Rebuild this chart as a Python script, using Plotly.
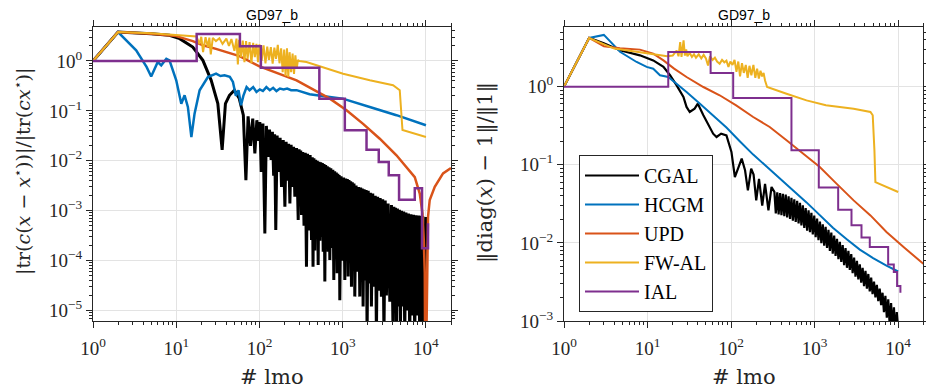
import plotly.graph_objects as go

# ---------------- left panel: |tr(c(x - x*))| / |tr(c x*)| ----------------
cgal_tr_x = [1, 2, 5, 8.3, 11, 15.8, 20.9, 26.3, 31.6, 35.6, 39, 43.6, 50, 57,
             64, 68.7, 73, 78, 83, 88, 93, 98, 101, 105, 110, 116, 121, 127, 132, 138,
             143, 148, 152, 157, 163, 170, 177, 184, 193, 202, 209, 216, 224, 232, 240, 249,
             257, 266, 279, 292, 299, 306, 313, 320, 331, 343, 355, 367, 378, 390, 406, 422,
             431, 440, 451, 462, 473, 484, 495, 507, 519, 532, 544, 556, 569, 583, 596, 610,
             624, 638, 653, 668, 684, 700, 720, 740, 761, 782, 801, 820, 838, 857, 873, 890,
             906, 923, 956, 990, 1025, 1060, 1085, 1110, 1136, 1162, 1190, 1220, 1247, 1274,
             1304, 1335, 1366, 1397, 1448, 1500, 1551, 1604, 1642, 1680, 1718, 1758, 1808,
             1860, 1911, 1963, 2025, 2090, 2150, 2213, 2295, 2380, 2460, 2541, 2630, 2720,
             2818, 2917, 3022, 3130, 3240, 3350, 3510, 3680, 3850, 4027, 4120, 4220, 4317,
             4416, 4540, 4670, 4800, 4932, 5080, 5240, 5400, 5560, 5750, 5950, 6160, 6385,
             6610, 6850, 7090, 7330, 7590, 7850, 8130, 8414, 8650, 8900, 9150, 9400, 10000]
cgal_tr_y = [1, 3.8, 3.5, 3.27, 2.8, 1.9, 1.03, 0.41, 0.14, 0.0165, 0.14, 0.205, 0.26, 0.18,
             0.082, 0.0041, 0.078, 0.02, 0.07, 0.014, 0.065, 0.025, 0.06, 0.006, 0.056, 3.5e-4,
             0.05, 0.012, 0.042, 0.0104, 0.038, 0.005, 0.034, 4.1e-4, 0.032, 0.006, 0.029,
             0.003, 0.026, 0.0012, 0.024, 0.004, 0.022, 0.0014, 0.021, 0.003, 0.019, 0.0019,
             0.018, 6.5e-4, 0.017, 0.0015, 0.016, 8.2e-4, 0.015, 5e-4, 0.0145, 7.5e-5, 0.0138,
             4e-4, 0.013, 2.6e-4, 0.0118, 7.5e-5, 0.0112, 1.6e-4, 0.0105, 3e-4, 0.01, 8.2e-5,
             0.0096, 2.5e-4, 0.0093, 3e-4, 0.009, 1.5e-4, 0.0086, 3.8e-5, 0.0082, 3.3e-4,
             0.0078, 1.5e-4, 0.0074, 1.03e-4, 0.0071, 1.8e-4, 0.0066, 4.1e-5, 0.0062, 1.5e-4,
             0.0058, 5.6e-5, 0.0055, 1.2e-4, 0.0052, 1.6e-5, 0.0049, 1e-4, 0.0046, 4.1e-5,
             0.0044, 1e-4, 0.0043, 4.8e-5, 0.0041, 9e-5, 0.0039, 3e-5, 0.0037, 7e-5, 0.0035,
             1.9e-5, 0.0032, 6e-5, 0.003, 1.9e-5, 0.0029, 5e-5, 0.0028, 1.2e-5, 0.0027, 4e-5,
             0.0026, 3e-6, 0.0025, 3.5e-5, 0.0023, 1.2e-5, 0.0022, 3e-5, 0.002, 3e-6, 0.0019,
             2.5e-5, 0.0018, 1.9e-5, 0.0017, 3e-6, 0.0016, 2e-5, 0.0014, 1.5e-5, 0.0013, 3e-6,
             0.0012, 1.5e-5, 0.00115, 3e-6, 0.0011, 1.2e-5, 0.00105, 3e-6, 0.001, 1.2e-5,
             0.00096, 3e-6, 0.00092, 1e-5, 0.00088, 3e-6, 0.00085, 8e-6, 0.00083, 3e-6,
             0.00081, 8e-6, 0.0008, 3e-6, 0.00079, 6e-6, 0.00078, 3e-6, 0.00075]

hcgm_tr_x = [1, 2, 3.3, 4.4, 5.0, 6.0, 6.6, 7.6, 8.3, 10, 11.5, 12.6, 13.8, 15.2, 16.6, 19.1,
             24, 30.1, 34, 38, 44, 48, 52, 56, 60, 64, 70, 76, 84, 92, 101, 110, 121, 133,
             146, 160, 176, 195, 215, 240, 279, 320, 400, 700, 1000, 2115, 4424, 10000]
hcgm_tr_y = [1, 3.8, 1.64, 0.76, 0.49, 0.955, 0.82, 1.11, 1.03, 0.41, 0.139, 0.205, 0.12, 0.030,
             0.088, 0.259, 0.478, 0.556, 0.5, 0.517, 0.48, 0.38, 0.2, 0.26, 0.13, 0.2, 0.30,
             0.26, 0.30, 0.24, 0.27, 0.25, 0.30, 0.26, 0.29, 0.25, 0.28, 0.27, 0.28, 0.26,
             0.26, 0.24, 0.215, 0.19, 0.176, 0.12, 0.082, 0.0515]

upd_tr_x = [1, 2, 5, 10, 15.8, 21, 30, 44, 57.5, 100, 279, 700, 1111, 1758, 2788, 4424, 5834,
            7340, 8426, 9081, 9415, 9680, 9850, 10150, 10400, 10600, 11100, 12760, 16050, 20000]
upd_tr_y = [1, 3.8, 3.5, 3.15, 2.5, 2.06, 1.75, 1.45, 1.25, 0.78, 0.41, 0.176, 0.103, 0.055,
            0.0277, 0.0129, 0.0075, 0.0047, 0.0022, 8.9e-4, 2.6e-4, 5.6e-5, 1e-7, 1e-5, 2.5e-4,
            7.6e-4, 1.64e-3, 3.0e-3, 5.6e-3, 7.2e-3]

fwal_tr_x = [1, 2, 5, 10, 15, 17.5, 19, 20, 21, 22.5, 24, 25, 26, 27.5, 30, 33, 36, 40, 43, 46,
             50, 53, 55, 57, 60, 63, 66, 69, 72, 76, 80, 84, 88, 92, 96, 100, 106, 112, 118,
             124, 130, 137, 144, 151, 158, 166, 174, 182, 190, 198, 206, 214, 222, 230, 240,
             250, 260, 270, 280, 290, 300, 367, 1011, 2115, 4027, 4845, 5224, 10000]
fwal_tr_y = [1, 3.8, 3.6, 3.35, 3.2, 3.1, 2.2, 3.05, 1.5, 3.0, 1.9, 2.95, 1.35, 2.9, 2.5, 2.85,
             2.2, 2.8, 2.0, 2.75, 1.6, 2.8, 0.85, 2.65, 1.2, 2.55, 0.95, 2.5, 1.1, 2.4, 0.9, 2.3,
             1.2, 2.2, 0.95, 2.15, 1.0, 2.05, 0.9, 1.95, 1.05, 1.9, 0.88, 1.85, 1.1, 2.1, 0.9,
             1.8, 0.6, 1.7, 0.5, 1.8, 0.48, 1.5, 0.6, 1.4, 0.55, 1.3, 0.7, 1.05, 1.0, 0.955,
             0.556, 0.41, 0.326, 0.259, 0.0414, 0.030]

ial_tr_x = [1, 17.6, 58.2, 104, 524, 1060, 1932, 2711, 3573, 4753, 7340, 8970, 10590]
ial_tr_y = [1, 3.48, 1.97, 0.734, 0.176, 0.041, 0.0166, 0.0095, 0.00514, 0.00166, 0.00281,
            1.76e-4, 5.6e-4]

# ---------------- right panel: ||diag(x) - 1|| / ||1|| ----------------
cgal_fe_x = [1, 2, 3, 4.68, 8.1, 11.7, 15.5, 18.6, 22.3, 26.9, 29.3, 32, 36.6, 40, 46.6, 56, 61,
             67, 76, 88, 101, 111, 122, 134, 147, 159, 174, 186, 200, 216, 236, 255, 280, 305,
             330, 343, 357, 371, 386, 401, 417, 434, 451, 469, 488, 508, 528, 549, 571, 594,
             618, 643, 668, 695, 723, 752, 782, 813, 846, 880, 915, 951, 990, 1029, 1070, 1113,
             1158, 1204, 1252, 1302, 1354, 1408, 1465, 1523, 1584, 1648, 1714, 1782, 1853, 1928,
             2005, 2085, 2168, 2255, 2345, 2439, 2537, 2638, 2744, 2853, 2968, 3086, 3210, 3338,
             3472, 3611, 3755, 3905, 4062, 4224, 4393, 4569, 4752, 4942, 5139, 5345, 5559, 5781,
             6012, 6253, 6503, 6763, 7034, 7315, 7608, 7912, 8228, 8558, 8900, 9256, 9626, 10000]
cgal_fe_y = [1, 4.2, 3.6, 2.92, 2.52, 2.17, 1.79, 1.40, 1.04, 0.738, 0.55, 0.474, 0.523, 0.605,
             0.43, 0.305, 0.25, 0.227, 0.25, 0.238, 0.146, 0.0697, 0.0935, 0.12, 0.085, 0.047,
             0.089, 0.075, 0.035, 0.066, 0.030, 0.057, 0.026, 0.052,
             0.045, 0.0238, 0.0443, 0.0232, 0.0435, 0.0226, 0.0425, 0.022, 0.0415, 0.0212,
             0.0395, 0.0203, 0.0378, 0.0193, 0.036, 0.0185, 0.0345, 0.0178, 0.0325, 0.0167,
             0.0302, 0.0155, 0.028, 0.0143, 0.0262, 0.0137, 0.0243, 0.0128, 0.0223, 0.0118,
             0.0205, 0.0108, 0.0188, 0.0099, 0.0173, 0.0092, 0.016, 0.0086, 0.0147, 0.0079,
             0.0136, 0.0073, 0.0124, 0.0068, 0.0113, 0.0062, 0.0103, 0.0057, 0.0094, 0.0052,
             0.0086, 0.0048, 0.0079, 0.0045, 0.0072, 0.0041, 0.0065, 0.0037, 0.0059, 0.0034,
             0.0053, 0.0031, 0.0048, 0.0028, 0.0044, 0.0026, 0.004, 0.0024, 0.0036, 0.0022,
             0.0032, 0.002, 0.0029, 0.0018, 0.0026, 0.0016, 0.0023, 0.0013, 0.0021, 0.0011,
             0.0019, 0.0009, 0.0017, 0.0008, 0.0015, 0.0007, 0.0013, 0.0008]

hcgm_fe_x = [1, 2, 3, 4.68, 7.4, 9.75, 11.7, 14.1, 17.7, 22.3, 29.3, 42.4, 61, 88, 127, 184,
             266, 384, 554, 800, 1153, 1667, 2404, 3475, 5012, 7244, 10000]
hcgm_fe_y = [1, 4.2, 4.6, 2.8, 2.07, 1.79, 1.7, 1.4, 1.33, 1.09, 0.855, 0.605, 0.43, 0.3, 0.2,
             0.135, 0.095, 0.066, 0.047, 0.033, 0.0225, 0.0155, 0.0112, 0.0082, 0.0064,
             0.0051, 0.0043]

upd_fe_x = [1, 2, 3, 4.68, 8.1, 11.7, 15.5, 20.8, 29.3, 46.6, 73, 115, 184, 290, 461, 734, 1153,
            1840, 2930, 4660, 7244, 11600, 20000]
upd_fe_y = [1, 4.2, 3.3, 3.1, 2.98, 2.65, 2.17, 1.70, 1.33, 0.99, 0.776, 0.577, 0.409, 0.305,
            0.206, 0.139, 0.0935, 0.057, 0.035, 0.0225, 0.0138, 0.00886, 0.0054]

fwal_fe_x = [1, 2, 4, 9.9, 17.2, 20, 22.3, 23.5, 24.6, 25.5, 27, 28, 29, 30, 32, 34, 36, 38, 41,
             44, 47, 50, 53, 56, 60, 64, 68, 73, 78, 83, 88, 93, 98, 104, 110, 116, 122, 128,
             135, 142, 150, 158, 166, 175, 185, 195, 205, 215, 225, 235, 245, 255, 270, 461,
             800, 1365, 2930, 4660, 4960, 5200, 5340, 10000]
fwal_fe_y = [1, 4.2, 3.07, 2.7, 2.45, 2.5, 2.9, 2.45, 3.73, 2.4, 3.92, 2.5, 3.0, 2.45, 2.7, 2.4,
             2.6, 2.35, 2.6, 2.3, 2.55, 2.3, 1.87, 2.45, 2.2, 2.35, 2.1, 1.97, 2.2, 2.05, 2.15,
             1.79, 2.1, 1.9, 2.2, 1.55, 2.1, 1.35, 2.0, 1.5, 1.9, 1.3, 1.85, 1.4, 1.9, 1.3, 1.7,
             1.27, 1.6, 1.35, 1.5, 1.2, 0.99, 0.81, 0.668, 0.577, 0.523, 0.474, 0.43, 0.153,
             0.06, 0.0448]

ial_fe_x = [1, 17.7, 56.9, 106, 528, 1122, 1914, 2763, 3640, 4575, 7590, 8870, 9710, 10640]
ial_fe_y = [1, 2.78, 1.5, 0.716, 0.153, 0.051, 0.0266, 0.0168, 0.0117, 0.00886, 0.0053,
            0.00424, 0.0028, 0.0023]

names = ["CGAL", "HCGM", "UPD", "FW-AL", "IAL"]
colors = ["#000000", "#0072BD", "#D95319", "#EDB120", "#7E2F8E"]

left_series = [(cgal_tr_x, cgal_tr_y), (hcgm_tr_x, hcgm_tr_y), (upd_tr_x, upd_tr_y),
               (fwal_tr_x, fwal_tr_y), (ial_tr_x, ial_tr_y)]
right_series = [(cgal_fe_x, cgal_fe_y), (hcgm_fe_x, hcgm_fe_y), (upd_fe_x, upd_fe_y),
                (fwal_fe_x, fwal_fe_y), (ial_fe_x, ial_fe_y)]

AXC = "#262626"
SERIF = "Liberation Serif"
WIDE_SERIF = "DejaVu Serif"

# the page body keeps the browser's 8px margin, so the figure starts 8px in
# from the window's top-left corner and runs to its right/bottom edges
W, H, PAD = 926, 384, 8


def fx(px):
    return (px - PAD) / W


def fy(py):
    return 1 - (py - PAD) / H


fig = go.Figure()
left_widths = {"CGAL": 3, "HCGM": 2.5, "UPD": 2.5, "FW-AL": 2, "IAL": 2.5}
for name, color, (x, y) in zip(names, colors, left_series):
    fig.add_trace(go.Scatter(
        x=x, y=y, mode="lines", name=name, showlegend=False, xaxis="x", yaxis="y",
        line=dict(color=color, width=left_widths[name],
                  shape="hv" if name == "IAL" else "linear")))
for name, color, (x, y) in zip(names, colors, right_series):
    fig.add_trace(go.Scatter(
        x=x, y=y, mode="lines", name=name, xaxis="x2", yaxis="y2",
        line=dict(color=color, width=2.2 if name == "CGAL" else 2,
                  shape="hv" if name == "IAL" else "linear")))

minor_vals = [m * 10 ** k for k in range(-6, 5) for m in range(2, 10)]


def power_label(e):
    return "10<sup>%s</sup>" % (str(e).replace("-", "\u2212"))


def log_axis(domain, rng, exps, anchor, standoff):
    return dict(
        type="log", domain=domain, range=rng, anchor=anchor, automargin=False,
        tickmode="array", tickvals=[10 ** e for e in exps],
        ticktext=[power_label(e) for e in exps],
        ticks="outside", ticklen=6, tickwidth=1, tickcolor=AXC, ticklabelstandoff=standoff,
        showline=True, linecolor=AXC, linewidth=1, mirror="ticks",
        showgrid=True, gridcolor="#E3E3E3", gridwidth=1, zeroline=False,
        minor=dict(tickvals=minor_vals, ticks="outside", ticklen=3, tickwidth=1,
                   tickcolor=AXC, showgrid=False),
        tickfont=dict(family=SERIF, size=19, color=AXC))


x_dec = [0, 1, 2, 3, 4]
y_dom = [fy(321), fy(27.3)]
fig.update_layout(
    width=W, height=H, margin=dict(l=0, r=0, t=0, b=0, autoexpand=False),
    paper_bgcolor="white", plot_bgcolor="white",
    xaxis=log_axis([fx(93), fx(451)], [0, 4.301], x_dec, "y", 4),
    yaxis=log_axis(y_dom, [-5.21, 0.675], [-5, -4, -3, -2, -1, 0], "x", 0),
    xaxis2=log_axis([fx(564), fx(923.3)], [0, 4.301], x_dec, "y2", 4),
    yaxis2=log_axis(y_dom, [-3, 0.76], [-3, -2, -1, 0], "x2", 0),
    legend=dict(x=fx(579), y=fy(155), xanchor="left", yanchor="top", bgcolor="white",
                bordercolor=AXC, borderwidth=1, font=dict(family=SERIF, size=20, color="#000"),
                itemwidth=54, tracegroupgap=0),
)


def label(text, px, py, font, angle=0):
    fig.add_annotation(text=text, x=fx(px), y=fy(py), xref="paper", yref="paper",
                       xanchor="center", yanchor="middle", textangle=angle,
                       showarrow=False, font=font)


title_font = dict(family="Liberation Sans", size=14, color="#000")
for cx in (272, 743.5):
    label("GD97_b", cx, 15, title_font)
    label("# lmo", cx, 377, dict(family=WIDE_SERIF, size=21, color=AXC))
label("|tr(<i>c</i>(<i>x</i> \u2212 <i>x</i><sup>\u22c6</sup>))|/|tr(<i>cx</i><sup>\u22c6</sup>)|",
      23, 172, dict(family=WIDE_SERIF, size=19, color=AXC), -90)
label("\u2016diag(<i>x</i>) \u2212 1\u2016/\u20161\u2016",
      485, 173, dict(family=WIDE_SERIF, size=21, color=AXC), -90)

fig.write_html("out.html")
